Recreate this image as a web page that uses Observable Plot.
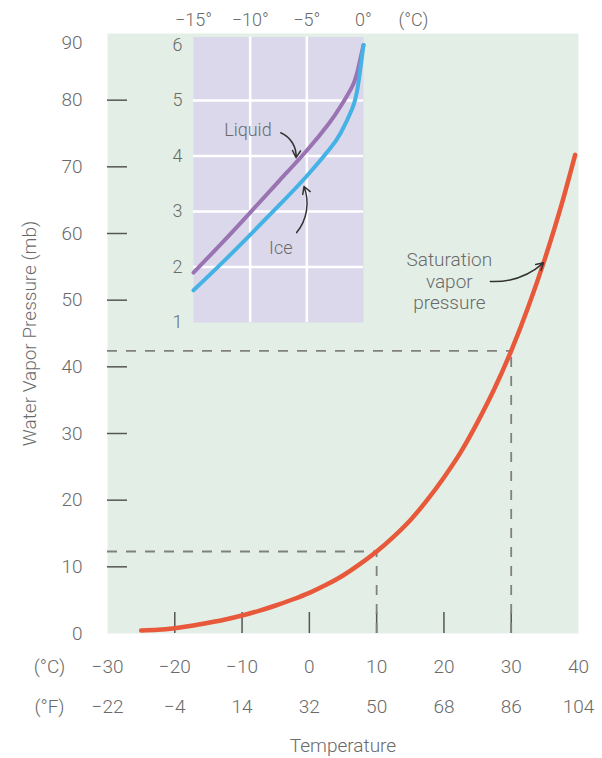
<!DOCTYPE html>
<html>
<head>
<meta charset="utf-8">
<script src="https://cdn.jsdelivr.net/npm/d3@7"></script>
<script src="https://cdn.jsdelivr.net/npm/@observablehq/plot@0.6"></script>
<style>
  html, body { margin: 0; padding: 0; background: white; }
  #wrap { position: relative; width: 602px; height: 758px; }
  #wrap svg { position: absolute; left: 0; top: 0; }
</style>
</head>
<body>
<div id="wrap"></div>
<script>
// ---- Data ----
const celsiusTicks = [-30, -20, -10, 0, 10, 20, 30, 40];
const fahrenheitTicks = [-22, -4, 14, 32, 50, 68, 86, 104];
const xTickMarks = [-20, -10, 0, 10, 20, 30];
const yLabels = [0, 10, 20, 30, 40, 50, 60, 70, 80];
const yTopLabel = [90];
const yTickMarks = [10, 20, 30, 40, 50, 60, 70, 80];

const satTemp = [-25, -22.5, -20, -17.5, -15, -12.5, -10, -7.5, -5, -2.5, 0, 2.5, 5, 7.5, 10, 12.5, 15, 17.5, 20, 22.5, 25, 27.5, 30, 32.5, 35, 37.5, 39.5];
const satPress = [0.45, 0.55, 0.8, 1.15, 1.6, 2.1, 2.7, 3.4, 4.2, 5.1, 6.1, 7.3, 8.7, 10.4, 12.3, 14.5, 17.0, 20.0, 23.4, 27.2, 31.7, 36.7, 42.4, 48.9, 56.2, 64.4, 71.8];

const guideTemp = [10, 30];
const guidePress = [12.3, 42.4];

const liquidTemp = [-15, -12.5, -10, -7.5, -5, -3, -2, -1, -0.5, 0];
const liquidPress = [1.9, 2.43, 2.98, 3.54, 4.1, 4.6, 4.9, 5.25, 5.55, 6.0];
const iceTemp = [-15, -12.5, -10, -7.5, -5, -3, -2, -1, -0.5, 0];
const icePress = [1.58, 2.07, 2.58, 3.1, 3.64, 4.12, 4.42, 4.85, 5.25, 6.0];

const insetXTicks = [-15, -10, -5, 0];
const insetYTicks = [1, 2, 3, 4, 5, 6];
const insetGridX = [-10, -5];
const insetGridY = [2, 3, 4, 5];

// annotations (data units)
const satNote = [{x: 20.8, y: 52.9, text: "Saturation\nvapor\npressure"}];
const satArrow = [{x1: 26.9, y1: 52.8, x2: 34.8, y2: 55.6}];
const insetNotes = [{x: -10.2, y: 4.46, text: "Liquid"}, {x: -7.3, y: 2.33, text: "Ice"}];
const liquidArrow = [{x1: -7.3, y1: 4.42, x2: -5.95, y2: 3.97}];
const iceArrow = [{x1: -5.9, y1: 2.62, x2: -5.25, y2: 3.45}];

// ---- Build tables ----
const sat = satTemp.map((t, i) => ({t, p: satPress[i]}));
const guides = guideTemp.map((t, i) => ({t, p: guidePress[i]}));
const liquid = liquidTemp.map((t, i) => ({t, p: liquidPress[i]}));
const ice = iceTemp.map((t, i) => ({t, p: icePress[i]}));

const FONT = "Roboto, 'Liberation Sans', sans-serif";
const TEXT = "#6a6a6a";
const fmtNum = d => d < 0 ? `\u2212${-d}` : `${d}`;
const xDomain = [-30, 40];
const yDomain = [0, 90];

const main = Plot.plot({
  width: 602,
  height: 758,
  marginLeft: 107,
  marginRight: 24,
  marginTop: 33,
  marginBottom: 125,
  style: {fontFamily: FONT, fontSize: "19px", color: TEXT, background: "white", fontWeight: 300},
  x: {domain: xDomain, axis: null},
  y: {domain: yDomain, axis: null},
  marks: [
    Plot.frame({fill: "#e3efe6", stroke: null}),
    Plot.tickY(yTickMarks, {y: d => d, stroke: "#555", strokeWidth: 1.5, insetRight: 451}),
    Plot.tickX(xTickMarks, {x: d => d, stroke: "#555", strokeWidth: 1.5, insetTop: 579}),
    Plot.ruleY(guides, {y: "p", x1: () => xDomain[0], x2: "t", stroke: "#808080", strokeWidth: 1.8, strokeDasharray: "10,9"}),
    Plot.ruleX(guides, {x: "t", y1: () => yDomain[0], y2: "p", stroke: "#808080", strokeWidth: 1.8, strokeDasharray: "10,9"}),
    Plot.line(sat, {x: "t", y: "p", stroke: "#e8593b", strokeWidth: 4.5, curve: "monotone-x"}),
    Plot.axisY(yLabels, {tickSize: 0, tickPadding: 25, fontSize: 19, fill: TEXT}),
    Plot.text(yTopLabel, {y: d => d, frameAnchor: "left", dx: -25, dy: 9, textAnchor: "end", fontSize: 19, fill: TEXT}),
    Plot.text(celsiusTicks, {x: d => d, text: fmtNum, frameAnchor: "bottom", dy: 33, lineAnchor: "middle", fontSize: 19, fill: TEXT}),
    Plot.text(fahrenheitTicks.map((f, i) => ({x: celsiusTicks[i], f})), {x: "x", text: d => fmtNum(d.f), frameAnchor: "bottom", dy: 73, lineAnchor: "middle", fontSize: 19, fill: TEXT}),
    Plot.text(["(\u00B0C)"], {frameAnchor: "bottom-left", dx: -58, dy: 33, textAnchor: "middle", lineAnchor: "middle", fontSize: 19, fill: TEXT}),
    Plot.text(["(\u00B0F)"], {frameAnchor: "bottom-left", dx: -58, dy: 73, textAnchor: "middle", lineAnchor: "middle", fontSize: 19, fill: TEXT}),
    Plot.text(["Temperature"], {frameAnchor: "bottom", dy: 112, lineAnchor: "middle", fontSize: 19, fill: TEXT}),
    Plot.text(["Water Vapor Pressure (mb)"], {frameAnchor: "left", dx: -78, rotate: -90, textAnchor: "middle", lineAnchor: "middle", fontSize: 19, fill: TEXT}),
    Plot.text(satNote, {x: "x", y: "y", text: "text", lineHeight: 1.12, fontSize: 19, fill: TEXT}),
    Plot.arrow(satArrow, {x1: "x1", y1: "y1", x2: "x2", y2: "y2", bend: -22, stroke: "#333", strokeWidth: 1.5, headLength: 8})
  ]
});

const inset = Plot.plot({
  width: 602,
  height: 340,
  marginLeft: 193,
  marginRight: 239,
  marginTop: 44.5,
  marginBottom: 18,
  style: {fontFamily: FONT, fontSize: "18px", color: TEXT, background: "none", fontWeight: 300},
  x: {domain: [-15, 0], axis: null},
  y: {domain: [1, 6], axis: null},
  marks: [
    Plot.frame({fill: "#dbd8eb", stroke: null, insetTop: -8}),
    Plot.ruleX(insetGridX, {x: d => d, stroke: "white", strokeWidth: 2.5, insetTop: -8}),
    Plot.ruleY(insetGridY, {y: d => d, stroke: "white", strokeWidth: 2.5}),
    Plot.line(liquid, {x: "t", y: "p", stroke: "#9a74b2", strokeWidth: 4, curve: "natural"}),
    Plot.line(ice, {x: "t", y: "p", stroke: "#45b2e6", strokeWidth: 4, curve: "natural"}),
    Plot.axisY(insetYTicks, {tickSize: 0, tickPadding: 11, tickFormat: d => `${d}`, fontSize: 18, fill: TEXT}),
    Plot.text(insetXTicks, {x: d => d, text: d => fmtNum(d) + "\u00B0", frameAnchor: "top", dy: -24.5, lineAnchor: "middle", fontSize: 18, fill: TEXT}),
    Plot.text(["(\u00B0C)"], {frameAnchor: "top-right", dx: 50, dy: -24.5, lineAnchor: "middle", textAnchor: "middle", fontSize: 18, fill: TEXT}),
    Plot.text(insetNotes, {x: "x", y: "y", text: "text", fontSize: 18, fill: TEXT}),
    Plot.arrow(liquidArrow, {x1: "x1", y1: "y1", x2: "x2", y2: "y2", bend: 35, stroke: "#333", strokeWidth: 1.5, headLength: 8}),
    Plot.arrow(iceArrow, {x1: "x1", y1: "y1", x2: "x2", y2: "y2", bend: -30, stroke: "#333", strokeWidth: 1.5, headLength: 8})
  ]
});

const wrap = document.getElementById("wrap");
wrap.appendChild(main);
wrap.appendChild(inset);
</script>
</body>
</html>
